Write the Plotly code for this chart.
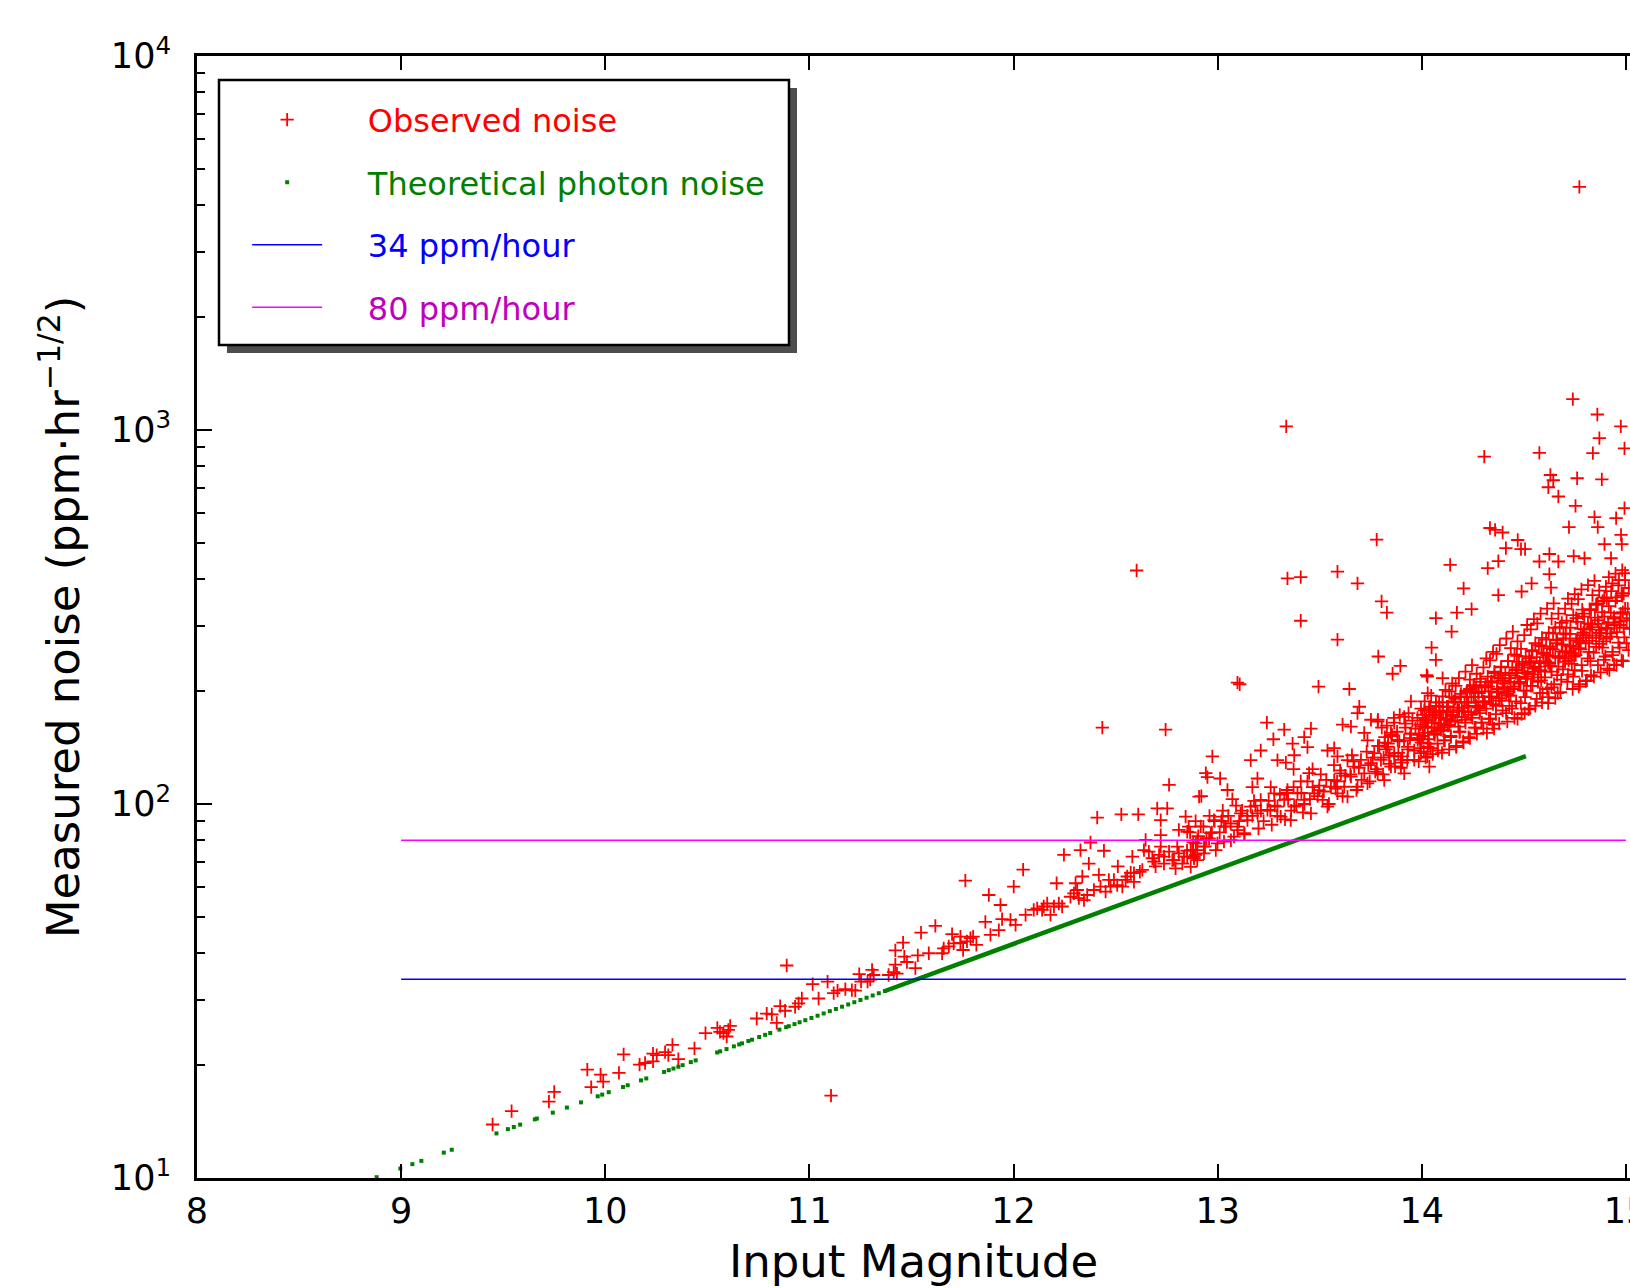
import plotly.graph_objects as go

# ---------------- data ----------------
# Observed noise: bright end (mag < 12.95)
obs_mag_a = [9.448, 9.541, 9.724, 9.750, 9.912, 9.931, 9.977, 9.990, 10.067, 10.090,
             10.168, 10.195, 10.234, 10.234, 10.252, 10.293, 10.309, 10.329, 10.358, 10.437,
             10.491, 10.549, 10.562, 10.579, 10.595, 10.603, 10.612, 10.742, 10.791, 10.816,
             10.840, 10.857, 10.881, 10.889, 10.930, 10.947, 11.106,
             10.963, 11.045, 11.016, 11.089, 11.119, 11.138, 11.176, 11.208, 11.225, 11.244,
             11.253, 11.285, 11.307, 11.315, 11.298, 11.388, 11.413, 11.429, 11.421, 11.421,
             11.459, 11.465, 11.478, 11.519, 11.531, 11.547, 11.585, 11.617, 11.650, 11.658,
             11.683, 11.699, 11.707, 11.740, 11.740, 11.753, 11.764, 11.772, 11.789, 11.802,
             11.818, 11.862, 11.879, 11.887, 11.928, 11.936, 11.944, 11.985, 12.001, 12.010,
             12.047, 12.059, 12.116, 12.140, 12.181, 12.211, 12.198, 12.222, 12.238, 12.247,
             12.296, 12.304, 12.320, 12.328, 12.337, 12.345, 12.369, 12.377, 12.394, 12.410,
             12.418, 12.443, 12.451, 12.475, 12.492, 12.511, 12.528, 12.533, 12.557, 12.574,
             12.582, 12.590, 12.611, 12.619, 12.639, 12.647, 12.680, 12.696, 12.704, 12.721,
             12.721, 12.737, 12.753, 12.762, 12.778, 12.794, 12.810, 12.835, 12.843, 12.851,
             12.884, 12.900, 12.909,
             12.663, 12.688, 12.713, 12.737, 12.762, 12.786, 12.810, 12.827, 12.851, 12.876,
             12.900, 12.721, 12.802, 12.868, 12.892,
             12.279, 12.312, 12.361, 12.426, 12.467, 12.508, 12.549, 12.590, 12.631,
             12.099, 12.148, 12.165]
obs_noise_a = [13.9, 15.1, 16.0, 17.0, 19.5, 17.5, 18.9, 18.1, 19.1, 21.4,
               20.1, 20.3, 21.5, 20.5, 21.3, 21.7, 21.3, 22.7, 20.8, 22.2,
               24.4, 25.2, 24.6, 24.4, 23.9, 24.9, 25.5, 26.7, 27.5, 27.4,
               26.0, 28.8, 28.0, 37.0, 28.7, 29.3, 16.6,
               30.2, 30.2, 33.0, 33.5, 31.2, 31.7, 32.0, 31.8, 31.7, 35.1,
               33.5, 33.5, 36.0, 34.9, 33.9, 34.9, 35.5, 35.2, 40.6, 37.2,
               42.6, 39.1, 37.8, 36.4, 39.4, 45.3, 39.9, 47.2, 39.9, 41.1,
               41.6, 44.9, 42.4, 42.5, 44.2, 40.7, 62.4, 42.9, 43.8, 44.2,
               42.0, 48.4, 57.1, 44.7, 46.0, 53.7, 49.2, 49.0, 60.1, 47.5,
               66.8, 50.5, 52.6, 52.1, 50.5, 61.4, 53.2, 54.2, 53.2, 73.1,
               57.7, 61.4, 56.0, 75.3, 64.0, 55.3, 69.3, 78.9, 58.9, 92.0,
               64.6, 75.0, 58.3, 60.1, 62.7, 68.1, 93.8, 60.1, 64.0, 65.5,
               72.3, 61.9, 93.8, 65.9, 75.3, 80.2, 71.6, 68.1, 97.3, 90.6,
               82.6, 72.3, 97.3, 112.5, 70.8, 67.3, 85.3, 72.3, 92.5, 84.3,
               71.6, 75.3, 104.7,
               74.6, 70.1, 73.1, 69.3, 74.6, 70.8, 73.8, 69.3, 72.3, 75.3,
               70.8, 76.9, 76.9, 67.9, 73.1,
               56.5, 58.9, 57.1, 60.1, 62.7, 60.7, 62.7, 65.3, 66.7,
               52.1, 53.2, 54.2]

# Observed noise: middle band (12.85 - 14.0)
obs_mag_b = [12.850, 12.865, 12.880, 12.892, 12.905, 12.858,
             12.930, 12.945, 12.960, 12.972, 12.985, 12.938,
             13.010, 13.025, 13.040, 13.052, 13.065, 13.018,
             13.090, 13.105, 13.120, 13.132, 13.145, 13.098,
             13.170, 13.185, 13.200, 13.212, 13.225, 13.178,
             13.250, 13.265, 13.280, 13.292, 13.305, 13.258,
             13.330, 13.345, 13.360, 13.372, 13.385, 13.338,
             13.410, 13.425, 13.440, 13.452, 13.465, 13.418,
             13.490, 13.505, 13.520, 13.532, 13.545, 13.498,
             13.570, 13.585, 13.600, 13.612, 13.625, 13.578,
             13.650, 13.665, 13.680, 13.692, 13.705, 13.658,
             13.730, 13.745, 13.760, 13.772, 13.785, 13.738,
             13.810, 13.825, 13.840, 13.852, 13.865, 13.818,
             13.890, 13.905, 13.920, 13.932, 13.945, 13.898,
             12.868, 12.901, 12.933, 12.966, 12.999, 13.031, 12.917, 12.982, 13.023, 13.064,
             13.097, 13.113, 13.146, 13.162, 13.195, 13.211, 13.244, 13.277, 13.293, 13.309,
             13.326, 13.358, 13.375, 13.391, 13.424, 13.457, 13.473, 13.497, 13.514, 13.538,
             13.555, 13.571, 13.587, 13.604, 13.620, 13.636, 13.653, 13.669, 13.685, 13.702,
             13.718, 13.734, 13.751, 13.767, 13.784, 13.800, 13.816, 13.833, 13.849, 13.865,
             13.882, 13.898, 13.914, 13.931, 13.947, 13.963, 13.980, 13.996, 14.013, 14.029,
             14.037, 12.884, 12.933, 12.991, 13.031, 13.080, 13.130, 12.893, 12.958]
obs_noise_b = [75, 84, 79, 90, 82, 87,
               87, 81, 93, 84, 90, 77,
               84, 96, 87, 93, 80, 90,
               99, 90, 96, 83, 93, 87,
               93, 99, 86, 96, 90, 102,
               102, 88, 99, 93, 106, 96,
               91, 103, 96, 111, 99, 107,
               107, 100, 115, 103, 111, 95,
               105, 120, 108, 116, 100, 112,
               127, 115, 123, 105, 119, 110,
               120, 130, 109, 125, 116, 135,
               138, 115, 133, 122, 143, 127,
               120, 140, 128, 152, 134, 146,
               147, 134, 160, 140, 154, 125,
               75.3, 80.2, 76.9, 83.6, 78.5, 87.1, 87.1, 90.6, 92.5, 88.7,
               85.1, 94.4, 90.6, 98.4, 94.4, 102.6, 96.4, 106.7, 98.4, 92.5,
               102.6, 90.6, 98.4, 106.7, 102.6, 94.4, 106.7, 108.9, 102.6, 98.4,
               111.2, 115.9, 106.7, 120.8, 111.2, 104.7, 118.3, 125.9, 111.2, 131.2,
               120.8, 113.5, 128.5, 136.8, 120.8, 131.2, 115.9, 142.2, 125.9, 136.8,
               148.3, 131.2, 120.8, 142.2, 154.5, 131.2, 148.3, 136.8, 161.1, 142.2,
               125.9, 72.3, 73.8, 75.3, 79.3, 81.8, 83.6, 78.5, 80.9]

# Observed noise: faint end, lower part of the band (14.0 - 15.0)
obs_mag_c = [13.985, 13.992, 13.998, 14.004, 14.010, 14.015, 14.019, 13.988,
             14.024, 14.031, 14.037, 14.043, 14.049, 14.054, 14.059, 14.027,
             14.063, 14.070, 14.077, 14.083, 14.088, 14.094, 14.099, 14.066,
             14.102, 14.109, 14.116, 14.123, 14.128, 14.134, 14.139, 14.105,
             14.142, 14.149, 14.156, 14.163, 14.169, 14.174, 14.179, 14.146,
             14.183, 14.190, 14.196, 14.203, 14.209, 14.214, 14.219, 14.186,
             14.222, 14.229, 14.236, 14.243, 14.248, 14.254, 14.259, 14.226,
             14.263, 14.270, 14.276, 14.283, 14.289, 14.294, 14.299, 14.266,
             14.302, 14.309, 14.316, 14.323, 14.329, 14.334, 14.339, 14.306,
             14.343, 14.349, 14.356, 14.363, 14.368, 14.374, 14.379, 14.346,
             14.382, 14.389, 14.396, 14.403, 14.409, 14.414, 14.419, 14.386,
             14.423, 14.429, 14.436, 14.443, 14.448, 14.454, 14.459, 14.426,
             14.462, 14.469, 14.476, 14.483, 14.489, 14.494, 14.499, 14.466,
             14.503, 14.509, 14.516, 14.523, 14.528, 14.534, 14.539, 14.506,
             14.542, 14.549, 14.556, 14.563, 14.569, 14.574, 14.579, 14.546,
             14.583, 14.589, 14.596, 14.603, 14.609, 14.614, 14.619, 14.586,
             14.622, 14.629, 14.636, 14.643, 14.648, 14.654, 14.659, 14.626,
             14.663, 14.669, 14.676, 14.683, 14.689, 14.694, 14.699, 14.666,
             14.702, 14.709, 14.716, 14.723, 14.728, 14.734, 14.739, 14.706,
             14.742, 14.749, 14.756, 14.763, 14.769, 14.774, 14.779, 14.746,
             14.783, 14.789, 14.796, 14.803, 14.809, 14.814, 14.819, 14.786,
             14.823, 14.829, 14.836, 14.843, 14.848, 14.854, 14.859, 14.826,
             14.862, 14.869, 14.876, 14.883, 14.889, 14.894, 14.899, 14.866,
             14.903, 14.909, 14.916, 14.923, 14.928, 14.934, 14.939, 14.906,
             14.942, 14.949, 14.956, 14.963, 14.969, 14.974, 14.979, 14.946,
             14.983, 14.989, 14.996, 15.003, 15.009, 15.014, 15.019, 14.986]
obs_noise_c = [130, 163, 146, 173, 138, 155, 168, 150,
               167, 149, 178, 141, 160, 173, 154, 134,
               153, 183, 145, 164, 177, 158, 137, 172,
               187, 148, 168, 182, 162, 140, 176, 157,
               152, 172, 187, 167, 143, 181, 161, 193,
               178, 193, 171, 147, 187, 165, 199, 156,
               199, 176, 150, 193, 170, 206, 160, 183,
               182, 154, 199, 175, 212, 165, 188, 205,
               159, 205, 180, 219, 169, 194, 212, 187,
               211, 185, 226, 174, 200, 218, 192, 163,
               189, 232, 178, 205, 224, 197, 166, 217,
               241, 183, 212, 232, 203, 170, 224, 195,
               188, 218, 240, 210, 174, 232, 201, 249,
               225, 248, 216, 179, 239, 207, 258, 193,
               256, 222, 183, 247, 212, 266, 198, 232,
               228, 187, 254, 218, 275, 203, 239, 264,
               193, 264, 226, 286, 209, 248, 275, 237,
               274, 233, 297, 215, 256, 286, 245, 198,
               240, 309, 222, 265, 296, 253, 203, 284,
               320, 228, 274, 307, 261, 209, 294, 248,
               235, 283, 317, 269, 214, 304, 255, 331,
               293, 330, 278, 219, 315, 263, 344, 241,
               342, 287, 225, 326, 272, 357, 248, 303,
               296, 230, 338, 280, 371, 255, 313, 354,
               236, 349, 288, 384, 262, 323, 366, 305,
               360, 296, 397, 269, 333, 378, 314, 241]

# Observed noise: faint end, upper part of the band (14.0 - 15.0)
obs_mag_d = [14.006, 14.014, 14.022, 14.029, 14.036,
             14.046, 14.054, 14.062, 14.069, 14.076,
             14.086, 14.094, 14.102, 14.109, 14.116,
             14.126, 14.134, 14.142, 14.149, 14.156,
             14.166, 14.174, 14.182, 14.189, 14.196,
             14.206, 14.214, 14.222, 14.229, 14.236,
             14.246, 14.254, 14.262, 14.269, 14.276,
             14.286, 14.294, 14.302, 14.309, 14.316,
             14.326, 14.334, 14.342, 14.349, 14.356,
             14.366, 14.374, 14.382, 14.389, 14.396,
             14.406, 14.414, 14.422, 14.429, 14.436,
             14.446, 14.454, 14.462, 14.469, 14.476,
             14.486, 14.494, 14.502, 14.509, 14.516,
             14.526, 14.534, 14.542, 14.549, 14.556,
             14.566, 14.574, 14.582, 14.589, 14.596,
             14.606, 14.614, 14.622, 14.629, 14.636,
             14.646, 14.654, 14.662, 14.669, 14.676,
             14.686, 14.694, 14.702, 14.709, 14.716,
             14.726, 14.734, 14.742, 14.749, 14.756,
             14.766, 14.774, 14.782, 14.789, 14.796,
             14.806, 14.814, 14.822, 14.829, 14.836,
             14.846, 14.854, 14.862, 14.869, 14.876,
             14.886, 14.894, 14.902, 14.909, 14.916,
             14.926, 14.934, 14.942, 14.949, 14.956,
             14.966, 14.974, 14.982, 14.989, 14.996]
obs_noise_d = [152, 188, 170, 160, 180,
               195, 176, 165, 187, 157,
               182, 170, 194, 162, 202,
               176, 200, 166, 210, 188,
               207, 171, 217, 194, 181,
               177, 226, 201, 187, 215,
               235, 208, 193, 223, 181,
               216, 200, 232, 187, 245,
               206, 242, 193, 255, 224,
               252, 199, 266, 233, 214,
               205, 277, 241, 221, 261,
               289, 251, 229, 272, 212,
               260, 237, 283, 219, 301,
               245, 293, 226, 312, 269,
               304, 233, 323, 278, 252,
               241, 333, 287, 261, 313,
               344, 296, 269, 323, 248,
               305, 277, 333, 256, 354,
               285, 343, 264, 364, 314,
               353, 271, 375, 323, 293,
               279, 385, 332, 302, 362,
               395, 341, 310, 372, 286,
               349, 317, 381, 294, 404,
               325, 389, 301, 413, 357,
               397, 308, 422, 365, 333]

# Observed noise: faint end, densest core of the band (13.8 - 15.0)
obs_mag_e = [13.779, 13.792, 13.804, 13.813, 13.819, 13.785,
             13.829, 13.842, 13.854, 13.863, 13.869, 13.835,
             13.879, 13.892, 13.904, 13.913, 13.919, 13.885,
             13.929, 13.942, 13.954, 13.963, 13.969, 13.935,
             13.979, 13.992, 14.004, 14.013, 14.019, 13.985,
             14.029, 14.042, 14.054, 14.063, 14.069, 14.035,
             14.079, 14.092, 14.104, 14.113, 14.119, 14.085,
             14.129, 14.142, 14.154, 14.163, 14.169, 14.135,
             14.179, 14.192, 14.204, 14.213, 14.219, 14.185,
             14.229, 14.242, 14.254, 14.263, 14.269, 14.235,
             14.279, 14.292, 14.304, 14.313, 14.319, 14.285,
             14.329, 14.342, 14.354, 14.363, 14.369, 14.335,
             14.379, 14.392, 14.404, 14.413, 14.419, 14.385,
             14.429, 14.442, 14.454, 14.463, 14.469, 14.435,
             14.479, 14.492, 14.504, 14.513, 14.519, 14.485,
             14.529, 14.542, 14.554, 14.563, 14.569, 14.535,
             14.579, 14.592, 14.604, 14.613, 14.619, 14.585,
             14.629, 14.642, 14.654, 14.663, 14.669, 14.635,
             14.679, 14.692, 14.704, 14.713, 14.719, 14.685,
             14.729, 14.742, 14.754, 14.763, 14.769, 14.735,
             14.779, 14.792, 14.804, 14.813, 14.819, 14.785,
             14.829, 14.842, 14.854, 14.863, 14.869, 14.835,
             14.879, 14.892, 14.904, 14.913, 14.919, 14.885,
             14.929, 14.942, 14.954, 14.963, 14.969, 14.935,
             14.979, 14.992, 15.004, 15.013, 15.019, 14.985]
obs_noise_e = [124, 143, 160, 133, 151, 168,
               162, 135, 153, 170, 126, 145,
               156, 173, 129, 148, 164, 137,
               131, 150, 167, 139, 159, 175,
               170, 141, 161, 178, 133, 153,
               165, 182, 136, 156, 174, 145,
               139, 160, 178, 148, 169, 187,
               182, 151, 173, 191, 142, 163,
               178, 197, 146, 168, 187, 156,
               151, 173, 193, 160, 183, 203,
               198, 165, 188, 208, 155, 178,
               193, 213, 159, 183, 203, 169,
               164, 189, 210, 175, 200, 221,
               217, 180, 206, 228, 169, 195,
               212, 235, 175, 201, 223, 186,
               180, 207, 230, 191, 218, 241,
               238, 198, 226, 250, 186, 214,
               234, 259, 192, 221, 246, 205,
               199, 229, 255, 212, 242, 267,
               264, 219, 250, 277, 206, 237,
               259, 287, 213, 245, 273, 227,
               221, 254, 282, 235, 268, 297,
               292, 243, 277, 306, 228, 262,
               286, 316, 235, 270, 301, 250,
               242, 279, 310, 258, 294, 326]

# Observed noise: scattered points above the main band
obs_mag_out = [13.342, 13.407, 13.587, 13.685, 13.803, 13.829, 13.407, 13.587, 13.787, 13.857,
               13.895, 14.024, 13.108, 13.494, 13.645, 13.694, 13.685, 13.241, 13.326, 13.273,
               13.457, 13.424, 13.612, 13.653, 13.751, 13.784, 13.865, 13.367, 13.440, 13.375,
               13.211, 13.162, 12.974, 12.942, 12.950, 13.012, 13.048, 12.920, 13.072, 13.195,
               13.170, 13.260, 13.293, 13.334, 13.372, 13.448, 13.465, 13.407, 13.342, 13.538,
               13.571, 13.587, 13.636, 13.718, 13.734, 13.849, 13.914, 13.947, 13.996, 14.029,
               14.740, 14.860, 14.975, 14.870, 14.993, 14.306, 14.576, 14.630, 14.761, 14.882,
               14.620, 14.669, 14.753, 14.993, 14.846, 14.952, 14.721, 14.862, 14.359, 14.396,
               14.470, 14.976, 14.980, 14.895, 14.412, 14.486, 14.506, 14.139, 14.323, 14.375,
               14.576, 14.625, 14.669, 14.744, 14.797, 14.927, 14.996, 14.205, 14.375, 14.489,
               14.538, 14.625, 14.633, 14.069, 14.172, 14.244, 14.146, 14.048, 14.069, 14.028,
               14.102, 13.336, 12.603, 12.435, 12.745, 13.097, 13.779, 14.334, 14.644, 14.838,
               14.772]
obs_noise_out = [401, 404, 418, 389, 348, 325, 309, 275, 248, 223,
                 234, 221, 209, 206, 203, 182, 175, 165, 158, 149,
                 159, 151, 163, 161, 168, 166, 165, 145, 142, 135,
                 139, 131, 134, 121, 118, 117, 109, 105, 103, 117,
                 111, 111, 131, 129, 124, 121, 124, 115, 109, 139,
                 141, 134, 131, 155, 148, 155, 171, 188, 180, 198,
                 1210, 1100, 1022, 951, 893, 849, 869, 758, 743, 738,
                 703, 664, 627, 618, 585, 581, 550, 550, 541, 532,
                 508, 524, 495, 495, 483, 480, 480, 436, 427, 446,
                 445, 466, 445, 460, 454, 454, 414, 377, 362, 370,
                 389, 412, 379, 314, 325, 332, 289, 262, 243, 219,
                 217, 1023, 421, 160, 158, 211, 509, 547, 734, 867,
                 4470]

# Theoretical photon noise: individual stars at the bright end
phot_mag = [8.880, 8.996, 9.055, 9.099, 9.209, 9.248, 9.467, 9.523, 9.552, 9.583,
            9.655, 9.665, 9.743, 9.812, 9.881, 9.963, 9.985, 10.017, 10.087, 10.110,
            10.175, 10.201, 10.288, 10.311, 10.334, 10.358, 10.379, 10.419, 10.443, 10.548,
            10.563, 10.594, 10.630, 10.656, 10.670, 10.701, 10.719, 10.754, 10.783, 10.808,
            10.853, 10.886, 10.899, 10.927, 10.952, 10.980, 11.010, 11.040, 11.070, 11.100,
            11.130, 11.160, 11.190, 11.220, 11.250, 11.280, 11.310, 11.340, 11.370]
phot_noise = [10.05, 10.60, 10.89, 11.11, 11.69, 11.90, 13.16, 13.51, 13.69, 13.89,
              14.35, 14.42, 14.95, 15.43, 15.93, 16.54, 16.71, 16.96, 17.51, 17.70,
              18.24, 18.46, 19.21, 19.42, 19.62, 19.84, 20.03, 20.41, 20.63, 21.66,
              21.81, 22.12, 22.49, 22.76, 22.91, 23.24, 23.43, 23.82, 24.14, 24.42,
              24.93, 25.31, 25.46, 25.79, 26.09, 26.42, 26.79, 27.16, 27.54, 27.93,
              28.31, 28.71, 29.11, 29.51, 29.92, 30.34, 30.76, 31.19, 31.62]
# Theoretical photon noise: densely sampled stars (11.37 - 14.51)
phot_dense_mag = [11.37, 12.94, 14.51]
phot_dense_noise = [31.62, 65.2, 134.3]

# Reference levels
level_mag = [9, 15]
level_34 = [34, 34]
level_80 = [80, 80]

y_tick_vals = [10, 100, 1000, 10000]
y_tick_text = ["10<sup>1</sup>", "10<sup>2</sup>", "10<sup>3</sup>", "10<sup>4</sup>"]
y_minor_vals = [m * d for d in (10, 100, 1000) for m in range(2, 10)]
x_tick_vals = [8, 9, 10, 11, 12, 13, 14, 15]

# ---------------- figure ----------------
FONT = "DejaVu Sans"
PAD = "&nbsp;&nbsp;&nbsp;&nbsp;"
fig = go.Figure()

obs_mag = obs_mag_a + obs_mag_b + obs_mag_c + obs_mag_d + obs_mag_e + obs_mag_out
obs_noise = obs_noise_a + obs_noise_b + obs_noise_c + obs_noise_d + obs_noise_e + obs_noise_out

fig.add_trace(go.Scatter(
    x=obs_mag, y=obs_noise, mode="markers",
    name=PAD + '<span style="color:#ff0000">Observed noise</span>',
    legendgroup="g1",
    marker=dict(symbol="cross-thin", size=9.5, color="#ff0000",
                line=dict(width=1.8, color="#ff0000")),
))
fig.add_trace(go.Scatter(
    x=phot_mag, y=phot_noise, mode="markers",
    name=PAD + '<span style="color:#008000">Theoretical photon noise</span>',
    legendgroup="g2",
    marker=dict(symbol="square", size=4, color="#008000", line=dict(width=0)),
))
fig.add_trace(go.Scatter(
    x=phot_dense_mag, y=phot_dense_noise, mode="lines",
    showlegend=False, legendgroup="g2",
    line=dict(color="#008000", width=4.5),
))
fig.add_trace(go.Scatter(
    x=level_mag, y=level_34, mode="lines",
    name=PAD + '<span style="color:#0000ff">34 ppm/hour</span>',
    legendgroup="g3",
    line=dict(color="#0000ff", width=1.5),
))
fig.add_trace(go.Scatter(
    x=level_mag, y=level_80, mode="lines",
    name=PAD + '<span style="color:#bf00bf">80 ppm/hour</span>',
    legendgroup="g4",
    line=dict(color="#ff00ff", width=1.5),
))

# legend frame with drop shadow
fig.add_shape(type="rect", xref="paper", yref="paper",
              x0=0.0209, x1=0.4187, y0=0.7353, y1=0.9715,
              fillcolor="#4d4d4d", line=dict(width=0), layer="above")
fig.add_shape(type="rect", xref="paper", yref="paper",
              x0=0.01535, x1=0.4131, y0=0.7424, y1=0.97861,
              fillcolor="white", line=dict(width=2.5, color="black"), layer="above")

axis_common = dict(
    showgrid=False, zeroline=False, showline=True, linecolor="black", linewidth=3,
    ticks="inside", tickcolor="black", tickwidth=1.5,
    tickfont=dict(family=FONT, size=35, color="black"), automargin=False,
)

fig.update_xaxes(
    range=[8, 15.02], tickvals=x_tick_vals, ticklen=14, ticklabelstandoff=0,
    mirror="ticks", ticklabeloverflow="allow",
    title=dict(text="Input Magnitude", font=dict(family=FONT, size=45, color="black"),
               standoff=36),
    **axis_common,
)
fig.update_yaxes(
    type="log", range=[1, 4], tickvals=y_tick_vals, ticktext=y_tick_text, ticklen=15,
    ticklabelstandoff=16, mirror=False,
    minor=dict(tickvals=y_minor_vals, ticks="inside", ticklen=8, tickwidth=1.5,
               tickcolor="black", showgrid=False),
    title=dict(text="Measured noise (ppm·hr<sup>−1/2</sup>)",
               font=dict(family=FONT, size=45, color="black"), standoff=18),
    **axis_common,
)

fig.update_layout(
    width=1630, height=1288,
    template="none",
    paper_bgcolor="white", plot_bgcolor="white",
    margin=dict(l=197, r=0, t=56, b=110, pad=0),
    font=dict(family=FONT, color="black"),
    showlegend=True,
    legend=dict(
        x=0.035, y=0.9677, xanchor="left", yanchor="top",
        bgcolor="rgba(0,0,0,0)", borderwidth=0,
        font=dict(family=FONT, size=32),
        itemwidth=70, tracegroupgap=18, traceorder="grouped",
        itemsizing="trace",
    ),
)

fig.write_html("out.html", config={"displayModeBar": False},
               post_script="document.body.style.margin='0';")
